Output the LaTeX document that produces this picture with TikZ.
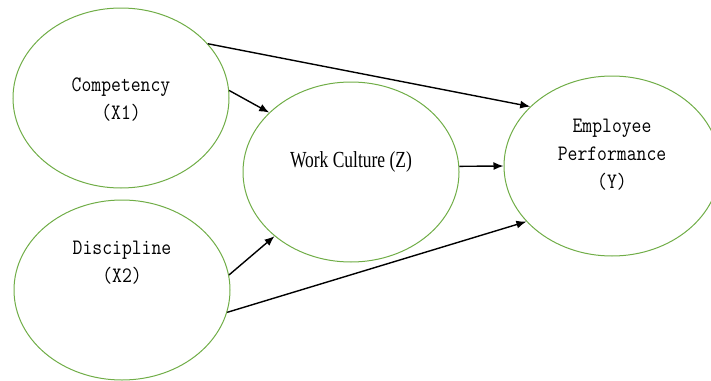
\documentclass[tikz,border=0pt]{standalone}
\usepackage{fontspec}
\usetikzlibrary{shapes.geometric, arrows.meta, positioning, calc}
\newfontfamily\varfont[FakeStretch=0.87]{Latin Modern Mono}
\newfontfamily\medfont[FakeStretch=0.76]{Liberation Serif}
\definecolor{ringgreen}{RGB}{112,173,71}

\begin{document}
\begin{tikzpicture}[
        x=1pt, y=-1pt,
        var/.style={ellipse, draw=ringgreen, line width=1pt, fill=none, inner sep=0pt, minimum width=216pt, minimum height=180pt},
        tag/.style={align=center, font=\varfont\fontsize{22}{28}\selectfont, inner sep=0pt},
        arrow/.style={-{Latex[length=10pt, width=8pt]}, draw=black, line width=1.4pt}
    ]
        \useasboundingbox (0,0) rectangle (711,380);

        \node[var] (comp) at (121,98) {};
        \node[var] (disc) at (122,290) {};
        \node[var] (wc) at (351,172) {};
        \node[var] (emp) at (612,166) {};

        \node[tag] (comptxt) at (121,100) {Competency\\(X1)};
        \node[tag] (disctxt) at (122,263) {Discipline\\(X2)};
        \node[tag, font=\medfont\fontsize{23}{28}\selectfont] (wctxt) at (351,162) {Work Culture (Z)};
        \node[tag] (emptxt) at (612,155) {Employee\\Performance\\(Y)};

        \draw[arrow] (comp.32) -- (emp.144);
        \draw[arrow] (comp.4) -- (wc.144);
        \draw[arrow] (disc.8) -- (wc.220);
        \draw[arrow] (disc.348) -- (emp.213);
        \draw[arrow] (wc.3) -- (emp.180);
    \end{tikzpicture}
\end{document}
